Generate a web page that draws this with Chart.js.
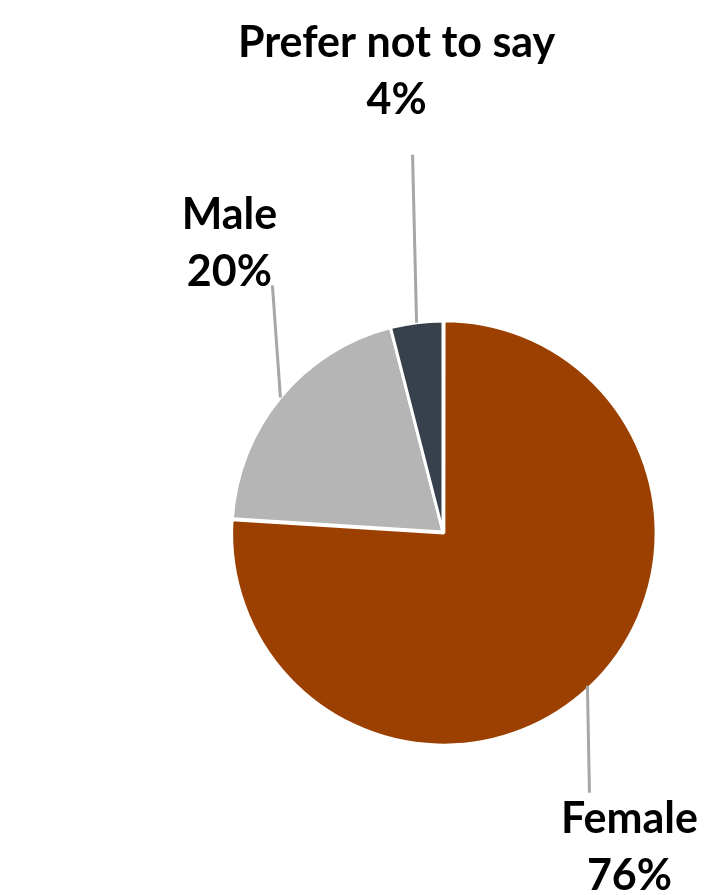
<!DOCTYPE html>
<html>
<head>
<meta charset="utf-8">
<script src="https://cdn.jsdelivr.net/npm/chart.js@4"></script>
<style>
  html, body { margin: 0; padding: 0; background: #fff; }
  #wrap { width: 707px; height: 895px; }
</style>
</head>
<body>
<div id="wrap"><canvas id="genderPie" width="707" height="895"></canvas></div>
<script>
// chart data
const categories = ['Female', 'Male', 'Prefer not to say'];
const shares = [76, 20, 4];
const sliceColors = ['#9b4000', '#b5b5b5', '#36414c'];

// where each label sits relative to the slice's outer midpoint (dx, dy)
const labelPlacement = [
    { line: [2, 107], text: [42, 147] },
    { line: [-8, -112], text: [-51, -169] },
    { line: [-4, -168], text: [-20, -266] }
];

const leaderLabels = {
    id: 'leaderLabels',
    afterDatasetsDraw(chart) {
        const ctx = chart.ctx;
        const meta = chart.getDatasetMeta(0);
        ctx.save();
        meta.data.forEach((arc, i) => {
            const mid = (arc.startAngle + arc.endAngle) / 2;
            const px = arc.x + Math.cos(mid) * arc.outerRadius;
            const py = arc.y + Math.sin(mid) * arc.outerRadius;
            const p = labelPlacement[i];

            ctx.strokeStyle = '#a6a6a6';
            ctx.lineWidth = 3;
            ctx.beginPath();
            ctx.moveTo(px, py);
            ctx.lineTo(px + p.line[0], py + p.line[1]);
            ctx.stroke();

            ctx.fillStyle = '#000';
            ctx.font = 'bold 43px Lato';
            ctx.textAlign = 'center';
            ctx.textBaseline = 'alphabetic';
            const tx = px + p.text[0];
            const ty = py + p.text[1];
            ctx.fillText(categories[i], tx, ty);
            ctx.fillText(shares[i] + '%', tx, ty + 57);
        });
        ctx.restore();
    }
};

new Chart(document.getElementById('genderPie'), {
    type: 'pie',
    data: {
        labels: categories,
        datasets: [{
            data: shares,
            backgroundColor: sliceColors,
            borderColor: '#ffffff',
            borderWidth: 3,
            offset: [5, 0, 0]
        }]
    },
    options: {
        responsive: false,
        animation: false,
        radius: 211,
        layout: { padding: { left: 193, right: 14, top: 282, bottom: 113 } },
        plugins: {
            legend: { display: false },
            tooltip: { enabled: false }
        }
    },
    plugins: [leaderLabels]
});
</script>
</body>
</html>
